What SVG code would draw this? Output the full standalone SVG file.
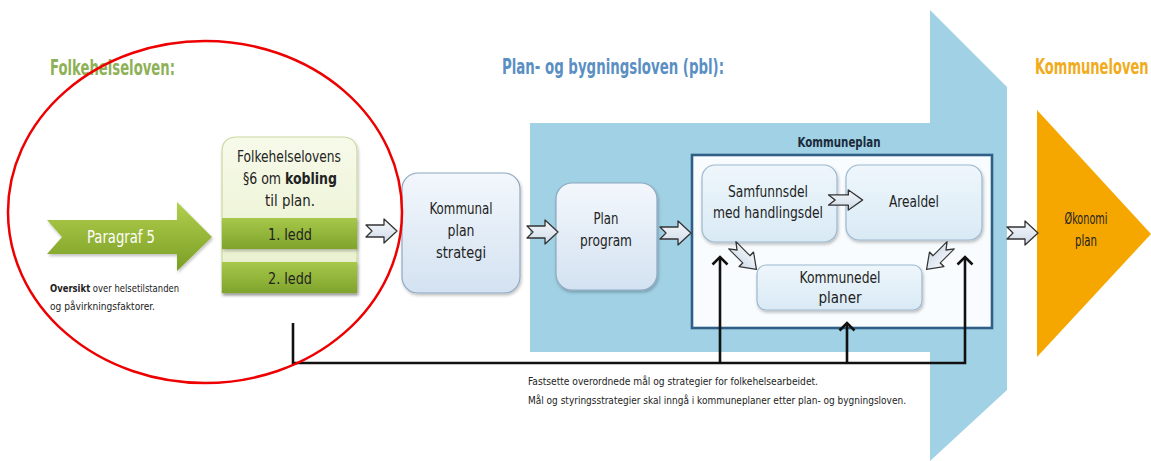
<svg xmlns="http://www.w3.org/2000/svg" width="1151" height="461" viewBox="0 0 1151 461">
<defs>
  <linearGradient id="gBox" x1="0" y1="0" x2="0" y2="1">
    <stop offset="0" stop-color="#f3f7fc"/>
    <stop offset="1" stop-color="#d3e2f1"/>
  </linearGradient>
  <linearGradient id="gInner" x1="0" y1="0" x2="0" y2="1">
    <stop offset="0" stop-color="#eef6fb"/>
    <stop offset="1" stop-color="#d9eaf5"/>
  </linearGradient>
  <linearGradient id="gPale" x1="0" y1="0" x2="0" y2="1">
    <stop offset="0" stop-color="#f7faea"/>
    <stop offset="1" stop-color="#e7efc9"/>
  </linearGradient>
  <linearGradient id="gBar" x1="0" y1="0" x2="0" y2="1">
    <stop offset="0" stop-color="#a6c84a"/>
    <stop offset="1" stop-color="#7fa32c"/>
  </linearGradient>
  <linearGradient id="gArrowG" x1="0" y1="0" x2="0" y2="1">
    <stop offset="0" stop-color="#b2cf4e"/>
    <stop offset="1" stop-color="#7a9e24"/>
  </linearGradient>
  <linearGradient id="gSmall" x1="0" y1="0" x2="0" y2="1">
    <stop offset="0" stop-color="#f6f8fb"/>
    <stop offset="1" stop-color="#cfdbe8"/>
  </linearGradient>
  <path id="blk" d="M-15,-6 H3 V-12 L16,0 L3,12 V6 H-15 L-9,0 Z"/>
  <marker id="ah" viewBox="0 0 10 16" refX="8.5" refY="8" markerWidth="10" markerHeight="16" markerUnits="userSpaceOnUse" orient="auto" overflow="visible">
    <path d="M1,0.5 L8.5,8 L1,15.5" fill="none" stroke="#111" stroke-width="2.6"/>
  </marker>
  <filter id="sh" x="-10%" y="-10%" width="130%" height="130%">
    <feDropShadow dx="1" dy="2" stdDeviation="1.5" flood-color="#000" flood-opacity="0.25"/>
  </filter>
</defs>
<style>
  text { font-family: "DejaVu Sans Condensed", "Liberation Sans", sans-serif; font-stretch: condensed; }
  .t { font-size: 16px; fill: #222; text-anchor: middle; }
  .sm { font-size: 11px; fill: #222; }
  .title { font-size: 22px; font-weight: bold; }
  .box { fill: url(#gBox); stroke: #8ea8c2; stroke-width: 1.2; filter: url(#sh); }
  .inner { fill: url(#gInner); stroke: #9db8cf; stroke-width: 1.2; filter: url(#sh); }
  .small { fill: url(#gSmall); stroke: #333; stroke-width: 1.3; stroke-linejoin: round; }
  .conn { fill: none; stroke: #111; stroke-width: 2.6; }
</style>

<rect width="1151" height="461" fill="#ffffff"/>

<!-- big pbl arrow -->
<g id="pbl-arrow">
  <path d="M530,123 H930 V10 L1007,87 V390 L930,461 V352 H530 Z" fill="#a0d1e4"/>
</g>

<!-- titles -->
<g id="titles">
  <text class="title" x="50" y="75" fill="#8eb158" textLength="125" lengthAdjust="spacingAndGlyphs">Folkehelseloven:</text>
  <text class="title" x="502" y="74" fill="#5a8fc3" textLength="222" lengthAdjust="spacingAndGlyphs">Plan- og bygningsloven (pbl):</text>
  <text class="title" transform="translate(1035,74) scale(0.66,1)" x="0" y="0" fill="#f0ac1c">Kommuneloven</text>
</g>

<!-- Paragraf 5 -->
<g id="paragraf5">
  <path d="M47,220 H177 V202 L212,237 L177,271 V254 H47 L62,237 Z" fill="url(#gArrowG)" filter="url(#sh)"/>
  <text x="121" y="243" font-size="17" fill="#ffffff" text-anchor="middle" textLength="68" lengthAdjust="spacingAndGlyphs">Paragraf 5</text>
  <text class="sm" transform="translate(50,292) scale(0.855,1)" x="0" y="0"><tspan font-weight="bold">Oversikt</tspan> over helsetilstanden</text>
  <text class="sm" x="50" y="310" textLength="105" lengthAdjust="spacingAndGlyphs">og påvirkningsfaktorer.</text>
</g>

<!-- Folkehelseloven §6 -->
<g id="paragraf6">
  <path d="M222,293 V152 Q222,137 237,137 H342 Q357,137 357,152 V293 Z" fill="url(#gPale)" stroke="#cbd9a0" stroke-width="1.2" filter="url(#sh)"/>
  <text class="t" x="289" y="162" textLength="104" lengthAdjust="spacingAndGlyphs">Folkehelselovens</text>
  <text class="t" transform="translate(290,184) scale(0.87,1)" x="0" y="0">§6 om <tspan font-weight="bold">kobling</tspan></text>
  <text class="t" x="290" y="206" textLength="50" lengthAdjust="spacingAndGlyphs">til plan.</text>
  <rect x="222" y="218" width="135" height="31" fill="url(#gBar)" filter="url(#sh)"/>
  <text class="t" x="290" y="240" textLength="44" lengthAdjust="spacingAndGlyphs">1. ledd</text>
  <rect x="222" y="262" width="135" height="31" fill="url(#gBar)" filter="url(#sh)"/>
  <text class="t" x="290" y="284" textLength="44" lengthAdjust="spacingAndGlyphs">2. ledd</text>
</g>

<!-- Kommunal plan strategi -->
<g id="planstrategi">
  <rect class="box" x="402" y="173" width="118" height="120" rx="16"/>
  <text class="t" x="461" y="214" textLength="63" lengthAdjust="spacingAndGlyphs">Kommunal</text>
  <text class="t" x="461" y="236" textLength="27" lengthAdjust="spacingAndGlyphs">plan</text>
  <text class="t" x="461" y="258" textLength="50" lengthAdjust="spacingAndGlyphs">strategi</text>
</g>

<!-- Plan program -->
<g id="planprogram">
  <rect class="box" x="556" y="183" width="101" height="107" rx="16"/>
  <text class="t" x="606" y="224" textLength="25" lengthAdjust="spacingAndGlyphs">Plan</text>
  <text class="t" x="606" y="246" textLength="52" lengthAdjust="spacingAndGlyphs">program</text>
</g>

<!-- Kommuneplan frame -->
<g id="kommuneplan">
  <rect x="692" y="155" width="300" height="173" fill="#f9fcfe" stroke="#2f5e86" stroke-width="2.6"/>
  <text x="839" y="147" font-size="14" font-weight="bold" fill="#1a2a3a" text-anchor="middle" textLength="83" lengthAdjust="spacingAndGlyphs">Kommuneplan</text>
</g>

<g id="samfunnsdel">
  <rect class="inner" x="702" y="165" width="135" height="77" rx="13"/>
  <text class="t" x="768" y="197" textLength="80" lengthAdjust="spacingAndGlyphs">Samfunnsdel</text>
  <text class="t" x="768" y="218" textLength="110" lengthAdjust="spacingAndGlyphs">med handlingsdel</text>
</g>

<g id="arealdel">
  <rect class="inner" x="846" y="165" width="136" height="75" rx="13"/>
  <text class="t" x="914" y="207" textLength="50" lengthAdjust="spacingAndGlyphs">Arealdel</text>
</g>

<g id="kommunedelplaner">
  <rect class="inner" x="757" y="265" width="165" height="45" rx="9"/>
  <text class="t" x="840" y="283" textLength="81" lengthAdjust="spacingAndGlyphs">Kommunedel</text>
  <text class="t" x="840" y="303" textLength="43" lengthAdjust="spacingAndGlyphs">planer</text>
</g>

<!-- Økonomiplan -->
<g id="okonomiplan">
  <path d="M1037,110 L1151,234 L1037,357 Z" fill="#f5a700"/>
  <text class="t" x="1086" y="224" textLength="43" lengthAdjust="spacingAndGlyphs">Økonomi</text>
  <text class="t" x="1086" y="246" textLength="22" lengthAdjust="spacingAndGlyphs">plan</text>
</g>

<!-- connectors -->
<g id="connectors">
  <use href="#blk" class="small" transform="translate(381,231)"/>
  <use href="#blk" class="small" transform="translate(542,232)"/>
  <use href="#blk" class="small" transform="translate(675,233)"/>
  <use href="#blk" class="small" transform="translate(845,200) scale(1.1,0.85)"/>
  <use href="#blk" class="small" transform="translate(744,257) rotate(45) scale(1.1,0.85)"/>
  <use href="#blk" class="small" transform="translate(939,257) rotate(135) scale(1.1,0.85)"/>
  <use href="#blk" class="small" transform="translate(1022,233)"/>
  <path class="conn" d="M293,323 V363 H965 V257" marker-end="url(#ah)"/>
  <path class="conn" d="M720,363 V257" marker-end="url(#ah)"/>
  <path class="conn" d="M847,363 V323" marker-end="url(#ah)"/>
  <text class="sm" x="528" y="385" textLength="290" lengthAdjust="spacingAndGlyphs">Fastsette overordnede mål og strategier for folkehelsearbeidet.</text>
  <text class="sm" x="528" y="404" textLength="378" lengthAdjust="spacingAndGlyphs">Mål og styringsstrategier skal inngå i kommuneplaner etter plan- og bygningsloven.</text>
</g>

<!-- red ellipse -->
<g id="highlight">
  <ellipse cx="205" cy="212" rx="197" ry="171" fill="none" stroke="#ee0000" stroke-width="2.5"/>
</g>
</svg>
